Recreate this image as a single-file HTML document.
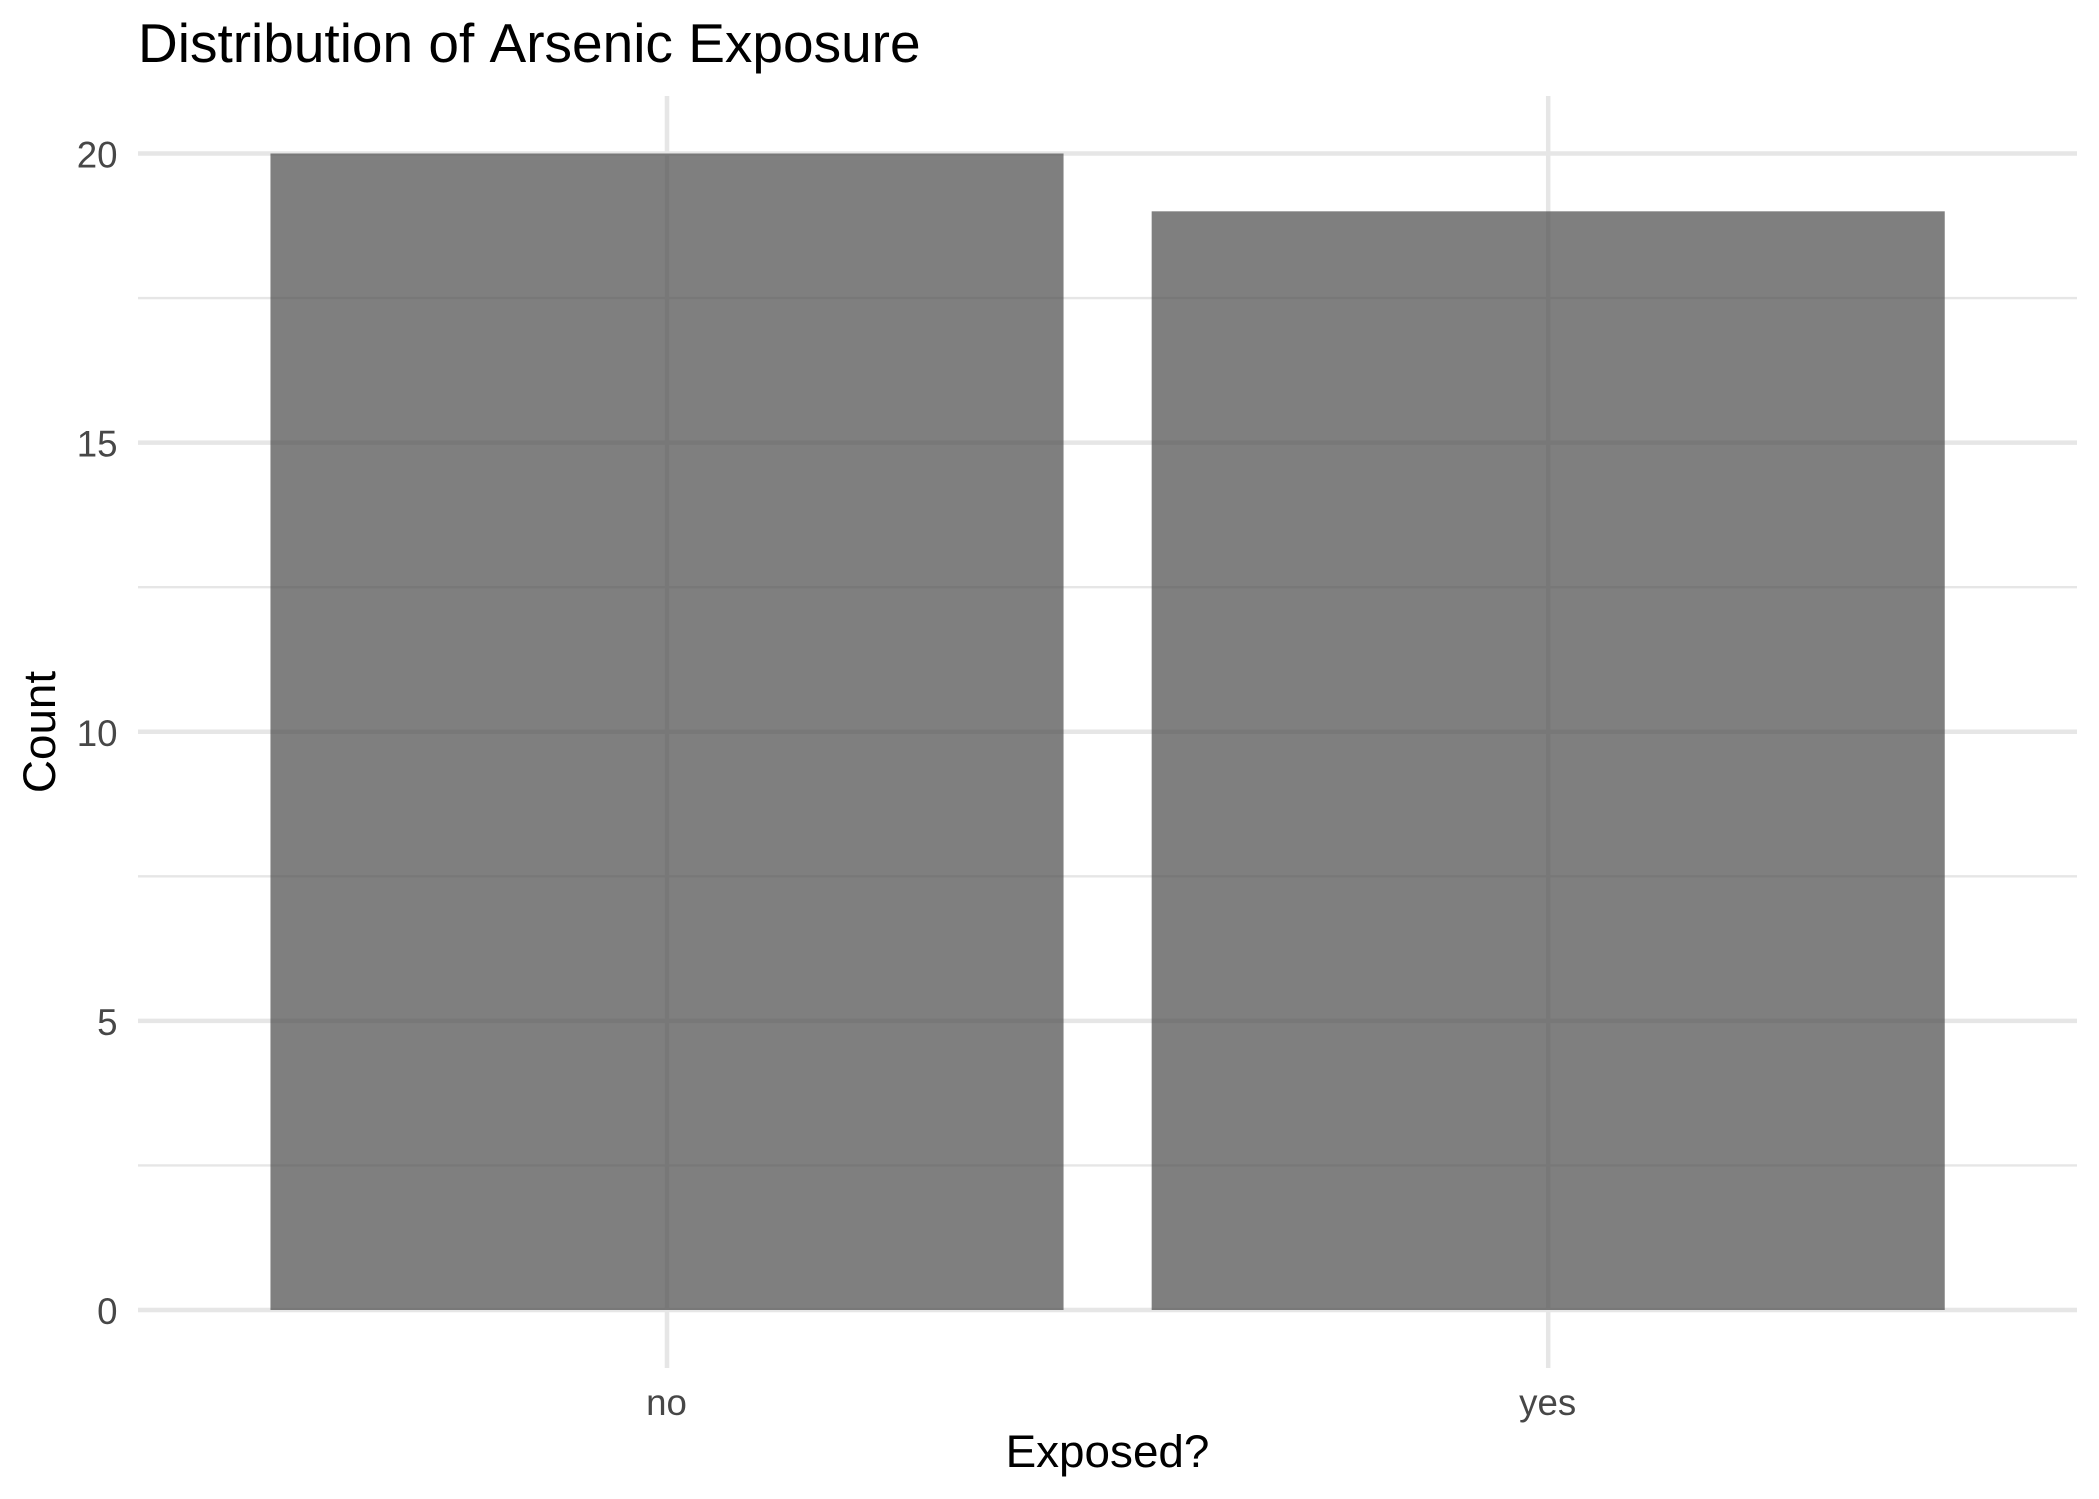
<!DOCTYPE html>
<html lang="en">
<head>
<meta charset="utf-8">
<title>Distribution of Arsenic Exposure</title>
<style>
  html, body { margin: 0; padding: 0; background: #ffffff; }
  svg { display: block; }
  text { font-family: "Liberation Sans", Arial, sans-serif; }
  .no-kern { font-kerning: none; }
</style>
</head>
<body>
<svg id="chart" xmlns="http://www.w3.org/2000/svg" width="2099" height="1499" viewBox="0 0 2099 1499">
  <rect x="0" y="0" width="2099" height="1499" fill="#ffffff"/>
  <g id="grid"></g>
  <g id="bars"></g>
  <g id="y-labels"></g>
  <g id="x-labels"></g>
  <text class="no-kern" x="138" y="62" font-size="55" fill="#000000">Distribution of Arsenic Exposure</text>
  <text x="1107.5" y="1467" font-size="45.83" text-anchor="middle" fill="#000000">Exposed?</text>
  <text transform="translate(55 732) rotate(-90)" font-size="45.83" text-anchor="middle" fill="#000000">Count</text>
</svg>
<script>
const categories = ["no", "yes"];
const counts = [20, 19];
const yTickLabels = [0, 5, 10, 15, 20];
const yMinorTicks = [2.5, 7.5, 12.5, 17.5];

const NS = "http://www.w3.org/2000/svg";
const panelLeft = 138, panelRight = 2077, panelTop = 96, panelBottom = 1368;
const yZeroPx = 1310, yUnitPx = 57.825;
const xFirstPx = 667, xUnitPx = 881.2, barWidth = 0.9;

function yScale(v) { return yZeroPx - v * yUnitPx; }
function xScale(i) { return xFirstPx + i * xUnitPx; }

function makeLine(x1, y1, x2, y2, width) {
  const l = document.createElementNS(NS, "line");
  l.setAttribute("x1", x1);
  l.setAttribute("y1", y1);
  l.setAttribute("x2", x2);
  l.setAttribute("y2", y2);
  l.setAttribute("stroke", "#e6e6e6");
  l.setAttribute("stroke-width", width);
  return l;
}

const grid = document.getElementById("grid");
yMinorTicks.forEach(function (t) {
  const el = makeLine(panelLeft, yScale(t), panelRight, yScale(t), 2.3);
  
  
  grid.appendChild(el);
});
yTickLabels.forEach(function (t) {
  const el = makeLine(panelLeft, yScale(t), panelRight, yScale(t), 4.5);
  
  
  grid.appendChild(el);
});
categories.forEach(function (c, i) {
  const el = makeLine(xScale(i), panelTop, xScale(i), panelBottom, 4.5);
  
  
  grid.appendChild(el);
});

const bars = document.getElementById("bars");
counts.forEach(function (v, i) {
  const r = document.createElementNS(NS, "rect");
  const w = barWidth * xUnitPx;
  r.setAttribute("x", xScale(i) - w / 2);
  r.setAttribute("y", yScale(v));
  r.setAttribute("width", w);
  r.setAttribute("height", yScale(0) - yScale(v));
  r.setAttribute("fill", "#4d4d4d");
  r.setAttribute("fill-opacity", "0.72");
  
  
  bars.appendChild(r);
});

const yLabels = document.getElementById("y-labels");
yTickLabels.forEach(function (t) {
  const el = document.createElementNS(NS, "text");
  el.setAttribute("x", 117.5);
  el.setAttribute("y", yScale(t) + 14);
  el.setAttribute("font-size", "36.67");
  el.setAttribute("text-anchor", "end");
  el.setAttribute("fill", "#474747");
  
  
  el.textContent = t;
  yLabels.appendChild(el);
});

const xLabels = document.getElementById("x-labels");
categories.forEach(function (c, i) {
  const el = document.createElementNS(NS, "text");
  el.setAttribute("x", xScale(i) - 0.5);
  el.setAttribute("y", 1415);
  el.setAttribute("font-size", "36.67");
  el.setAttribute("text-anchor", "middle");
  el.setAttribute("fill", "#474747");
  
  
  el.textContent = c;
  xLabels.appendChild(el);
});
</script>
</body>
</html>
